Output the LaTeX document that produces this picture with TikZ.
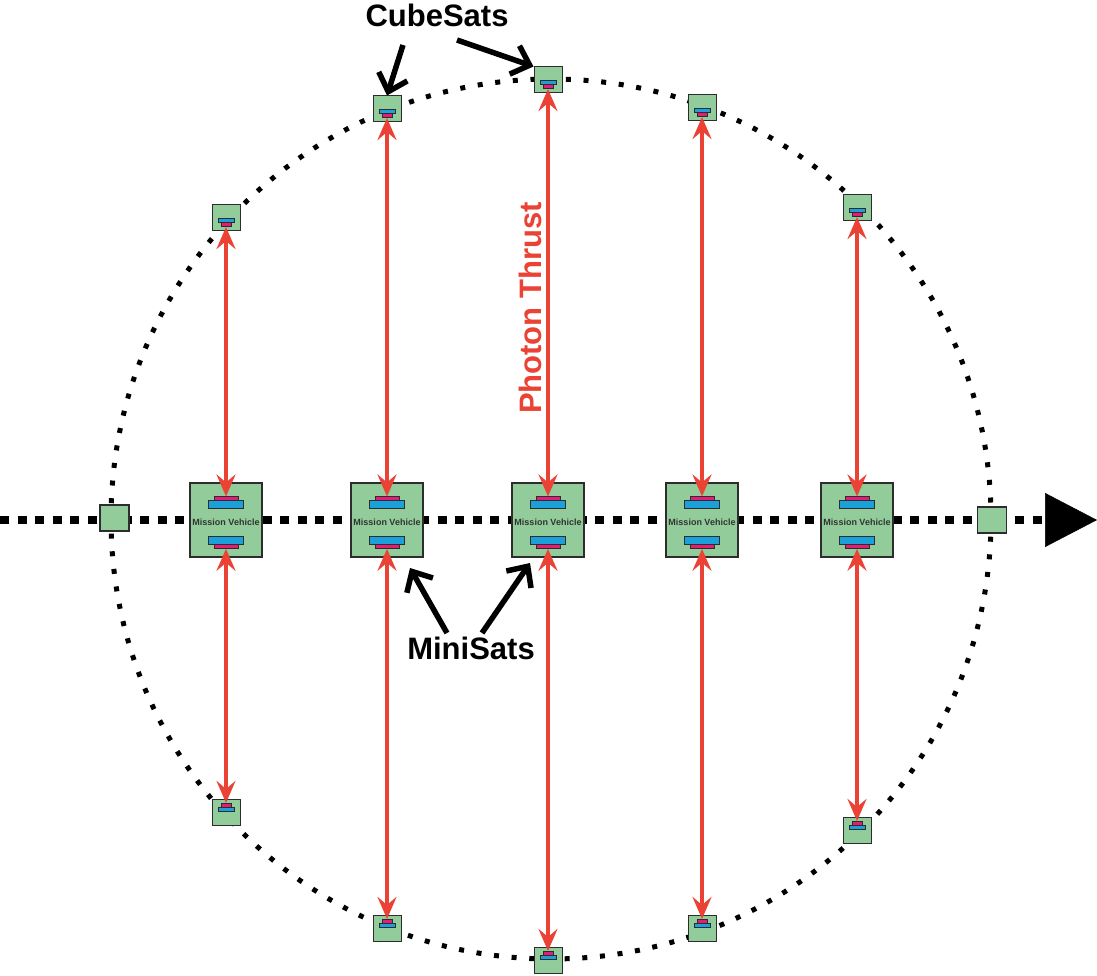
\documentclass[tikz,border=0pt]{standalone}
\usepackage{fontspec}
\setmainfont{Liberation Sans}
\usetikzlibrary{arrows.meta}
\definecolor{sgreen}{RGB}{146,204,154}
\definecolor{sblue}{RGB}{28,160,218}
\definecolor{spink}{RGB}{228,28,120}
\definecolor{sred}{RGB}{234,66,52}
\definecolor{edge}{RGB}{45,45,45}
\tikzset{
  mvbox/.style={draw=edge, line width=1.2pt, fill=sgreen, minimum width=72pt, minimum height=74pt, inner sep=0pt},
  csbox/.style={draw=edge, line width=1pt, fill=sgreen, minimum width=28pt, minimum height=26pt, inner sep=0pt},
  axbox/.style={draw=edge, line width=1.2pt, fill=sgreen, minimum width=29pt, minimum height=26pt, inner sep=0pt},
  bluebar/.style={draw=edge, line width=0.6pt, fill=sblue, inner sep=0pt},
  pinkbar/.style={draw=edge, line width=0.6pt, fill=spink, inner sep=0pt},
  mvtext/.style={font=\bfseries\fontsize{9}{9}\selectfont, text=black!80, inner sep=0pt},
  thrust/.style={draw=sred, line width=4pt, {Stealth[length=22pt,width=19pt,inset=8pt]}-{Stealth[length=22pt,width=19pt,inset=8pt]}},
  pointer/.style={draw=black, line width=5.5pt, -{Straight Barb[length=16pt,width=30pt]}},
  biglabel/.style={font=\bfseries\fontsize{31}{31}\selectfont, inner sep=0pt},
  orbit/.style={draw=black, line width=5pt, dash pattern=on 5pt off 12.7pt},
  axis/.style={draw=black, line width=8pt, dash pattern=on 9pt off 8.5pt, -{Triangle[length=52pt,width=54pt,line width=0.5pt]}}
}
\begin{document}
\begin{tikzpicture}[x=1pt,y=-1pt]
\useasboundingbox (0,0) rectangle (1097,976);
% orbit
\draw[orbit] (551,519) circle[radius=440];
% axis
\coordinate (axL) at (0,520);
\coordinate (axR) at (1097,520);
\draw[axis] (axL) -- (axR);
\node[axbox] (axsL) at (114.5,518) {};
\node[axbox] (axsR) at (992,520) {};
% mission vehicles
\foreach \i/\x in {1/226,2/387,3/548,4/702,5/857}{
  \node[mvbox] (mv\i) at (\x,520) {};
  \node[pinkbar, minimum width=24pt, minimum height=3.5pt] (mvtp\i) at (\x,498.5) {};
  \node[bluebar, minimum width=35pt, minimum height=8pt] (mvtb\i) at (\x,504.5) {};
  \node[bluebar, minimum width=35pt, minimum height=8pt] (mvbb\i) at (\x,540) {};
  \node[pinkbar, minimum width=24pt, minimum height=4.5pt] (mvbp\i) at (\x,546.25) {};
  \node[mvtext] (mvt\i) at (\x,522) {Mission Vehicle};
}
% cubesats
\foreach \i/\x/\yt/\yb in {1/226/218/812,2/387/109/928,3/548/80/960,4/702/108/928,5/857/208/830}{
  \node[csbox] (ct\i) at (\x,\yt) {};
  \node[bluebar, minimum width=16pt, minimum height=3.5pt] (ctb\i) at (\x,{\yt+2.5}) {};
  \node[pinkbar, minimum width=10pt, minimum height=4.5pt] (ctp\i) at (\x,{\yt+6.5}) {};
  \node[csbox] (cb\i) at (\x,\yb) {};
  \node[pinkbar, minimum width=10pt, minimum height=4.5pt] (cbp\i) at (\x,{\yb-6.5}) {};
  \node[bluebar, minimum width=16pt, minimum height=3.5pt] (cbb\i) at (\x,{\yb-2.5}) {};
}
% photon thrust arrows
\foreach \i in {1,...,5}{
  \draw[thrust] (ctp\i.south) -- (mvtp\i.north);
  \draw[thrust] (mvbp\i.south) -- (cbp\i.north);
}
% labels
\node[biglabel, anchor=base] (cubelab) at (437,27) {CubeSats};
\node[biglabel, anchor=base] (minilab) at (471,659) {MiniSats};
\node[biglabel, text=sred, rotate=90] (photon) at (530,308) {Photon Thrust};
% pointers
\coordinate (c1) at (403,45);
\coordinate (c2) at (457,40);
\draw[pointer] (c1) -- (ct2.north);
\draw[pointer] (c2) -- (ct3.north west);
\coordinate (m1) at (447,633);
\coordinate (m2) at (482,633);
\coordinate (m1t) at (410,568);
\coordinate (m2t) at (530,563);
\draw[pointer] (m1) -- (m1t);
\draw[pointer] (m2) -- (m2t);
\end{tikzpicture}
\end{document}
